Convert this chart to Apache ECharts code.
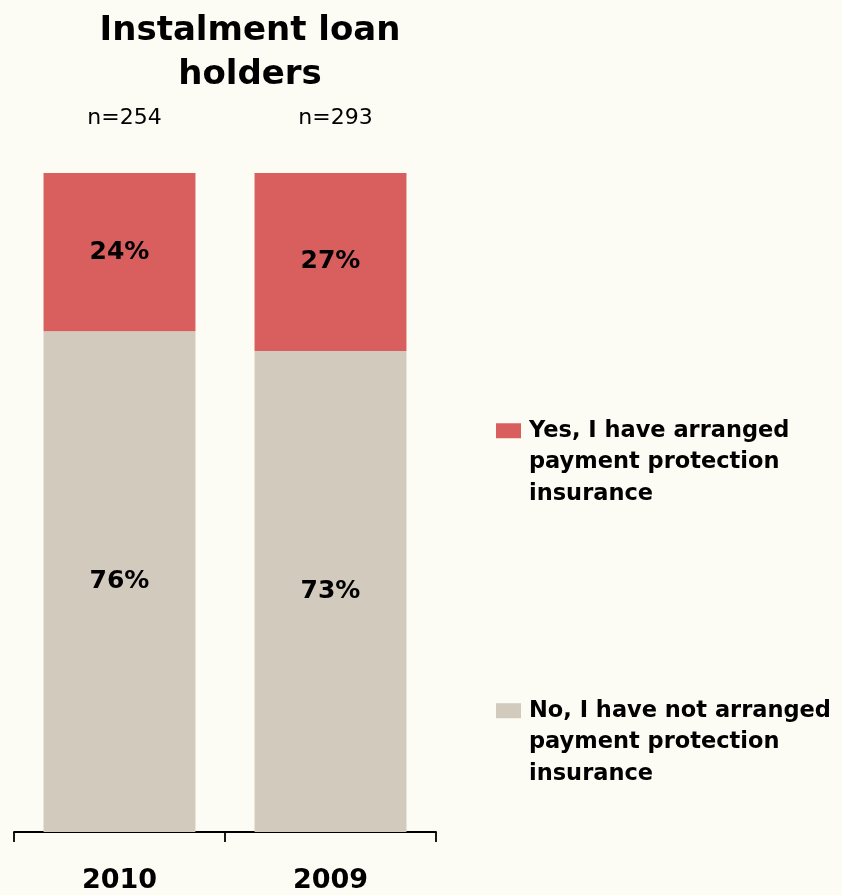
<!DOCTYPE html>
<html><head><meta charset="utf-8">
<script src="https://cdn.jsdelivr.net/npm/echarts@6/dist/echarts.min.js"></script>
<style>html,body{margin:0;padding:0;background:#FCFCF4;}#c{width:842px;height:895px;}</style>
</head><body><div id="c"></div>
<script>
const categories = ['2010', '2009'];
const sampleSizes = ['n=254', 'n=293'];
const noValues = [76, 73];
const yesValues = [24, 27];
const seriesNames = [
  'Yes, I have arranged\npayment protection\ninsurance',
  'No, I have not arranged\npayment protection\ninsurance'
];
const titleText = 'Instalment loan\nholders';

const font = 'DejaVu Sans';
const chart = echarts.init(document.getElementById('c'), null, {renderer: 'canvas'});
const labelStyle = {show: true, position: 'inside', formatter: '{c}%', color: '#000', fontFamily: font, fontWeight: 'bold', fontSize: 25};
const legendText = {fontFamily: font, fontWeight: 'bold', fontSize: 22.5, lineHeight: 31.5, color: '#000', padding: [0, 0, 0, 3]};
chart.setOption({
  backgroundColor: '#FCFCF4',
  animation: false,
  title: {
    text: titleText, left: 245, top: 4, textAlign: 'center',
    textStyle: {fontFamily: font, fontWeight: 'bold', fontSize: 34, lineHeight: 44, color: '#000'}
  },
  grid: {left: 14, right: 406, top: 173, bottom: 63},
  legend: [
    {
      data: [seriesNames[0]], left: 496, top: 352, padding: 0, orient: 'vertical',
      itemWidth: 25, itemHeight: 15, icon: 'rect', selectedMode: false,
      formatter: n => '\n\n' + n, textStyle: legendText
    },
    {
      data: [seriesNames[1]], left: 496, top: 632, padding: 0, orient: 'vertical',
      itemWidth: 25, itemHeight: 15, icon: 'rect', selectedMode: false,
      formatter: n => '\n\n' + n, textStyle: legendText
    }
  ],
  xAxis: [
    {
      type: 'category', data: categories, position: 'bottom',
      axisLine: {lineStyle: {color: '#000', width: 1.8}},
      axisTick: {show: true, length: 10, lineStyle: {color: '#000', width: 1.8}},
      axisLabel: {margin: 35, color: '#000', fontFamily: font, fontWeight: 'bold', fontSize: 27}
    },
    {
      type: 'category', data: sampleSizes, position: 'top',
      axisLine: {show: false}, axisTick: {show: false},
      axisLabel: {margin: 44, color: '#000', fontFamily: font, fontSize: 22, padding: [0, 0, 0, 10]}
    }
  ],
  yAxis: {type: 'value', min: 0, max: 100, show: false, splitLine: {show: false}},
  series: [
    {
      name: seriesNames[1], type: 'bar', stack: 'total', data: noValues,
      barCategoryGap: '28%', itemStyle: {color: '#D2CABD'}, label: labelStyle
    },
    {
      name: seriesNames[0], type: 'bar', stack: 'total', data: yesValues,
      itemStyle: {color: '#D95F5F'}, label: labelStyle
    }
  ]
});
</script></body></html>
